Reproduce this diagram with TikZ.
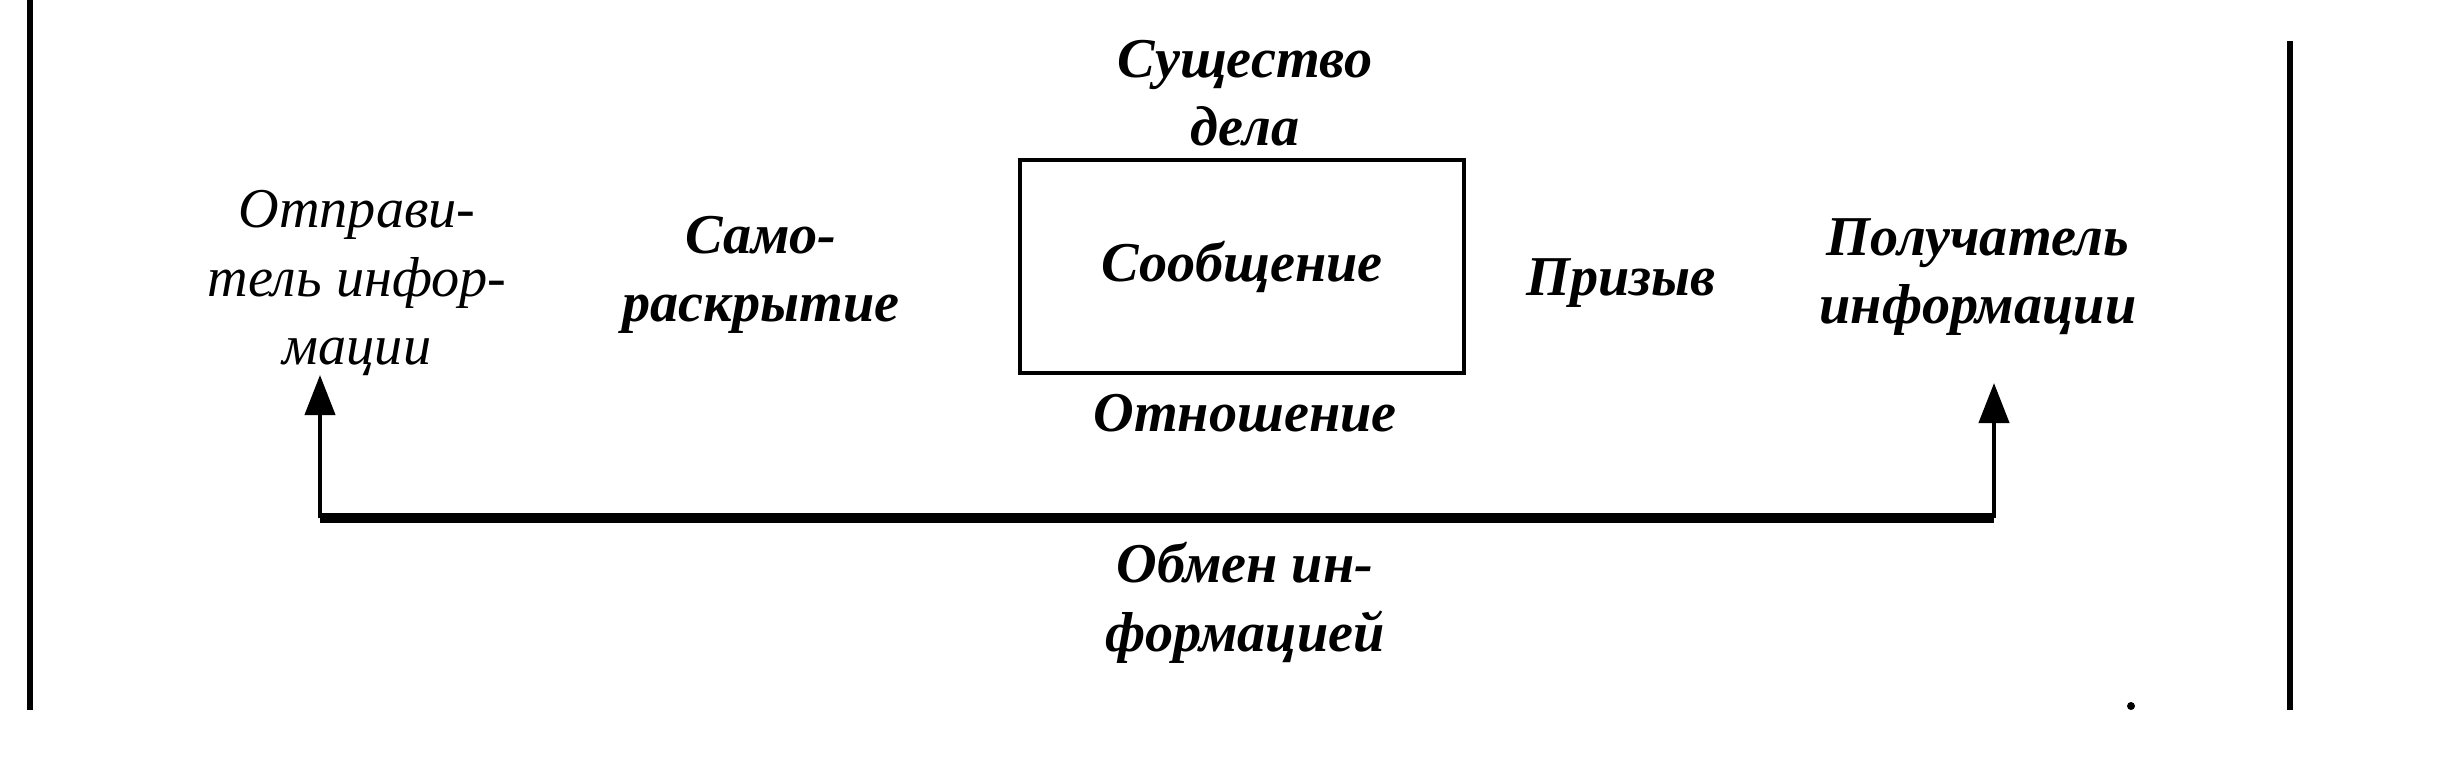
\documentclass[tikz,border=0pt]{standalone}
\usepackage{fontspec}
\setmainfont{Liberation Serif}
\usepackage{tikz}
\usetikzlibrary{positioning}
\usetikzlibrary{arrows.meta}

\tikzset{
  lbl/.style={font=\fontsize{16}{19.5}\selectfont\itshape, align=center, inner sep=0pt},
  blbl/.style={lbl, font=\fontsize{16}{19.5}\selectfont\bfseries\itshape},
  flow/.style={line width=1.2pt, -{Triangle[width=3mm,length=4mm]}},
  margin/.style={line width=1.5pt},
}

\begin{document}
\begin{tikzpicture}
\useasboundingbox (0,0) rectangle (24.56,7.58);
% page margins
\draw[margin] (0.30,7.58) -- (0.30,0.48);
\draw[margin] (22.90,7.17) -- (22.90,0.48);
% message with its four sides
\node[draw, line width=1.4pt, minimum width=4.44cm, minimum height=2.13cm, blbl] (msg) at (12.42,4.915) {Сообщение};
\node[blbl] (fact) at (12.45,6.65) {Существо\\дела};
\node[blbl] (rel) at (12.45,3.45) {Отношение};
\node[blbl] (self) at (7.61,4.83) {Само-\\раскрытие};
\node[blbl] (appeal) at (16.21,4.75) {Призыв};
% sender and receiver
\node[lbl] (sender) at (3.57,4.75) {Отправи-\\тель инфор-\\мации};
\node[blbl] (receiver) at (19.78,4.81) {Получатель\\информации};
% exchange
\coordinate (lcorner) at (3.20,2.40);
\coordinate (rcorner) at (19.94,2.40);
\coordinate (ltip) at (3.20,3.83);
\coordinate (rtip) at (19.94,3.75);
\draw[flow] (lcorner) -- (ltip);
\draw[flow] (rcorner) -- (rtip);
\draw[line width=2.8pt] (lcorner) -- (rcorner);
\node[blbl] (exch) at (12.45,1.55) {Обмен ин-\\формацией};
\fill (21.31,0.52) circle (0.04);
\end{tikzpicture}
\end{document}
